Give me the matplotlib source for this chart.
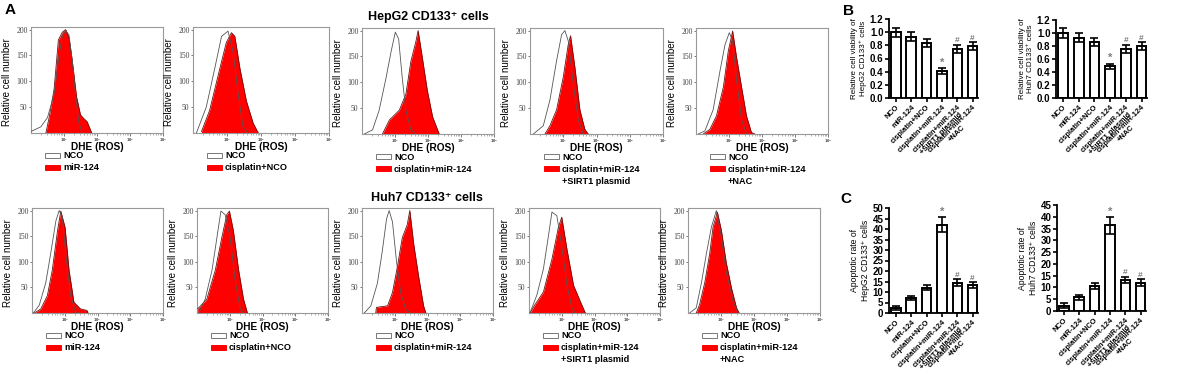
import numpy as np
import matplotlib
matplotlib.use('Agg')
import matplotlib.pyplot as plt
from matplotlib.patches import Rectangle
from matplotlib.ticker import FixedLocator, LogLocator, NullFormatter

# ==============================================================================
# Data
#
# flow cytometry histograms: x in log10(DHE), y in relative cell number
hep_nco_x = [
    [0.0, 0.3, 0.5, 0.7, 0.85, 0.95, 1.05, 1.15, 1.25, 1.35, 1.45, 1.55],
    [0.1, 0.39, 0.64, 0.84, 1.03, 1.18, 1.33, 1.47, 1.62],
    [0.07, 0.32, 0.52, 0.73, 0.88, 1.01, 1.11, 1.23, 1.33, 1.48, 1.63],
    [0.1, 0.4, 0.6, 0.8, 0.95, 1.05, 1.15, 1.3, 1.45, 1.6],
    [0.07, 0.27, 0.52, 0.73, 0.88, 1.01, 1.11, 1.23, 1.38, 1.53],
]
hep_nco_y = [
    [3, 12, 30, 75, 150, 188, 198, 190, 140, 75, 20, 0],
    [0, 50, 125, 187, 197, 156, 75, 12, 0],
    [0, 8, 46, 109, 159, 197, 184, 102, 46, 8, 0],
    [0, 16, 66, 142, 192, 200, 180, 98, 28, 0],
    [0, 6, 47, 123, 173, 196, 180, 104, 28, 0],
]
hep_trt_x = [
    [0.45, 0.55, 0.7, 0.83, 0.95, 1.05, 1.15, 1.25, 1.38, 1.5, 1.6, 1.7, 1.84],
    [0.25, 0.49, 0.79, 0.98, 1.13, 1.23, 1.38, 1.57, 1.77, 1.92],
    [0.62, 0.83, 1.13, 1.33, 1.48, 1.63, 1.7, 1.83, 1.98, 2.14, 2.34],
    [0.45, 0.6, 0.8, 1.0, 1.15, 1.22, 1.35, 1.5, 1.65, 1.75],
    [0.22, 0.42, 0.62, 0.83, 0.98, 1.11, 1.23, 1.38, 1.53, 1.68, 1.78],
]
hep_trt_y = [
    [0, 30, 85, 180, 195, 200, 185, 140, 70, 35, 28, 22, 0],
    [3, 44, 125, 175, 194, 187, 125, 62, 19, 0],
    [0, 27, 46, 77, 140, 178, 200, 147, 84, 33, 0],
    [0, 16, 47, 110, 173, 190, 129, 47, 9, 0],
    [0, 9, 35, 91, 161, 199, 148, 91, 35, 3, 0],
]
huh_nco_x = [
    [0.04, 0.22, 0.42, 0.57, 0.73, 0.83, 0.93, 1.03, 1.18, 1.33, 1.43],
    [0.05, 0.25, 0.46, 0.61, 0.73, 0.86, 1.01, 1.16, 1.32, 1.42],
    [0.07, 0.27, 0.47, 0.62, 0.75, 0.83, 0.93, 1.05, 1.18, 1.33, 1.48],
    [0.03, 0.24, 0.44, 0.59, 0.7, 0.85, 1.0, 1.16, 1.31, 1.41],
    [0.05, 0.25, 0.41, 0.56, 0.71, 0.86, 1.01, 1.16, 1.37, 1.52],
]
huh_nco_y = [
    [0, 15, 59, 116, 180, 200, 186, 116, 34, 2, 0],
    [0, 27, 84, 148, 199, 192, 148, 65, 8, 0],
    [0, 14, 58, 121, 184, 200, 178, 103, 40, 8, 0],
    [0, 35, 86, 149, 197, 190, 130, 54, 10, 0],
    [0, 10, 60, 117, 168, 200, 149, 79, 22, 0],
]
huh_trt_x = [
    [0.07, 0.27, 0.47, 0.62, 0.78, 0.88, 1.01, 1.13, 1.28, 1.48, 1.68, 1.71],
    [0.02, 0.3, 0.56, 0.76, 0.91, 0.99, 1.11, 1.27, 1.42, 1.54],
    [0.42, 0.44, 0.78, 0.93, 1.08, 1.23, 1.38, 1.46, 1.58, 1.73, 1.88, 1.95],
    [0.03, 0.18, 0.44, 0.7, 0.9, 1.0, 1.16, 1.36, 1.57, 1.72],
    [0.25, 0.35, 0.51, 0.66, 0.76, 0.89, 1.01, 1.16, 1.32, 1.47, 1.55],
]
huh_trt_y = [
    [0, 8, 34, 84, 161, 199, 167, 84, 21, 8, 5, 0],
    [8, 27, 84, 148, 192, 199, 161, 84, 27, 0],
    [0, 11, 14, 40, 90, 147, 172, 200, 134, 71, 14, 0],
    [0, 16, 41, 105, 168, 187, 124, 54, 22, 0],
    [0, 16, 60, 117, 168, 197, 162, 98, 48, 10, 0],
]
trt_legends = [
    ['miR-124'],
    ['cisplatin+NCO'],
    ['cisplatin+miR-124'],
    ['cisplatin+miR-124', '+SIRT1 plasmid'],
    ['cisplatin+miR-124', '+NAC'],
]

# bar charts
groups = ['NCO', 'miR-124', 'cisplatin+NCO', 'cisplatin+miR-124',
          'cisplatin+miR-124\n+SIRT1 plasmid', 'cisplatin+miR-124\n+NAC']
marks = ['', '', '', '*', '#', '#']
via_hep = [1.00, 0.93, 0.84, 0.41, 0.75, 0.79]
via_hep_err = [0.07, 0.07, 0.06, 0.04, 0.06, 0.06]
via_huh = [1.00, 0.93, 0.86, 0.49, 0.76, 0.80]
via_huh_err = [0.07, 0.07, 0.06, 0.04, 0.06, 0.06]
apo_hep = [2.5, 7.0, 12.0, 42.0, 14.5, 13.3]
apo_hep_err = [1.0, 1.0, 1.2, 3.5, 1.5, 1.4]
apo_huh = [2.3, 5.8, 10.7, 36.3, 13.2, 12.0]
apo_huh_err = [1.0, 1.0, 1.2, 3.5, 1.4, 1.4]

# ==============================================================================
# Figure helpers
#
W, H = 1200, 376
plt.rcParams['font.family'] = ['Liberation Sans', 'DejaVu Sans']
plt.rcParams['font.weight'] = 'bold'

fig = plt.figure(figsize=(W / 100, H / 100), dpi=100)


def px_axes(l, t, r, b):
    return fig.add_axes([l / W, 1 - b / H, (r - l) / W, (b - t) / H])


def fig_rect(x, y, w, h, fc, ec):
    fig.add_artist(Rectangle((x / W, 1 - (y + h) / H), w / W, h / H,
                             transform=fig.transFigure, facecolor=fc,
                             edgecolor=ec, lw=0.7))


def draw_hist(box, nx, ny, tx, ty, legend):
    l, t, r, b = box
    ax = px_axes(l, t, r, b)
    tx = 10 ** np.array(tx)
    nx = 10 ** np.array(nx)
    ax.fill_between(tx, ty, color='#ff0000', lw=0, zorder=2)
    ax.plot(tx, ty, color='#6a1010', lw=0.6, zorder=3)
    ax.plot(nx, ny, color='#555555', lw=0.6, zorder=4)
    ax.set_xscale('log')
    ax.set_xlim(1, 1e4)
    ax.set_ylim(0, 205)
    for s in ax.spines.values():
        s.set_color('#999999')
        s.set_linewidth(0.8)
    ax.yaxis.set_major_locator(FixedLocator([50, 100, 150, 200]))
    ax.xaxis.set_major_locator(FixedLocator([10, 100, 1000, 10000]))
    ax.xaxis.set_minor_locator(LogLocator(base=10, subs=np.arange(2, 10)))
    ax.xaxis.set_minor_formatter(NullFormatter())
    ax.set_xticklabels([r'$10^1$', r'$10^2$', r'$10^3$', r'$10^4$'])
    ax.tick_params(axis='x', which='major', labelsize=2.4, length=2,
                   width=0.5, pad=0.3, colors='#444444')
    ax.tick_params(axis='x', which='minor', length=1.5, width=0.4,
                   colors='#777777')
    ax.tick_params(axis='y', length=1.5, width=0.5, pad=1, colors='#444444')
    for lab in ax.get_yticklabels():
        lab.set_fontfamily('Liberation Serif')
        lab.set_fontweight('normal')
        lab.set_fontsize(5.5)
    ax.set_ylabel('Relative cell number', fontsize=7)
    ax.yaxis.set_label_coords(-19 / (r - l), 0.48)
    fig.text((l + r) / 2 / W, 1 - (b + 14) / H, 'DHE (ROS)',
             ha='center', va='center', fontsize=7.3)
    # legend under the panel
    fig_rect(l + 14, b + 20, 15, 5, 'white', '#777777')
    fig.text((l + 32) / W, 1 - (b + 23) / H, 'NCO', ha='left', va='center',
             fontsize=6.6)
    fig_rect(l + 14, b + 32, 15, 5, '#ff0000', '#ff0000')
    for i, line in enumerate(legend):
        fig.text((l + 32) / W, 1 - (b + 35 + 12 * i) / H, line,
                 ha='left', va='center', fontsize=6.6)
    return ax


def draw_bars(box, vals, errs, ymax, ystep, ylabel, ylabel_size):
    l, t, r, b = box
    ax = px_axes(l, t, r, b)
    x = np.arange(len(vals))
    ax.bar(x, vals, width=0.62, color='white', edgecolor='black', lw=1.4,
           yerr=errs, capsize=2.6,
           error_kw=dict(elinewidth=1.2, capthick=1.2, ecolor='black'))
    for xi, v, e, m in zip(x, vals, errs, marks):
        if m:
            ax.text(xi, v + e + ymax * 0.005, m, ha='center', va='bottom',
                    color='#808080', fontsize=6 if m == '#' else 8)
    ax.set_xlim(-0.45, 5.35)
    ax.set_ylim(0, ymax)
    ticks = np.arange(0, ymax + ystep / 2, ystep)
    ax.set_yticks(ticks)
    if ystep < 1:
        ax.set_yticklabels(['%.1f' % v for v in ticks])
    else:
        ax.set_yticklabels(['%d' % v for v in ticks])
    ax.set_xticks(x)
    ax.set_xticklabels(groups, rotation=45, ha='right',
                       rotation_mode='anchor', fontsize=5.4,
                       multialignment='center', linespacing=0.95)
    ax.spines['top'].set_visible(False)
    ax.spines['right'].set_visible(False)
    ax.spines['left'].set_linewidth(1.3)
    ax.spines['bottom'].set_linewidth(1.3)
    ax.tick_params(axis='y', labelsize=7, length=3, width=1.2, pad=1)
    ax.tick_params(axis='x', length=3, width=1.2, pad=1.2)
    ax.set_ylabel(ylabel, fontsize=ylabel_size, labelpad=2, linespacing=1.25)
    return ax


# ==============================================================================
# Panel A: histograms
#
row1 = [(31, 27, 163, 133), (193, 27, 329, 133), (362, 28, 494, 134),
        (530, 28, 663, 134), (696, 28, 828, 134)]
row2 = [(32, 208, 163, 313), (197, 208, 328, 313), (362, 208, 493, 313),
        (529, 208, 660, 313), (688, 208, 820, 313)]

for i in range(5):
    draw_hist(row1[i], hep_nco_x[i], hep_nco_y[i], hep_trt_x[i], hep_trt_y[i],
              trt_legends[i])
    draw_hist(row2[i], huh_nco_x[i], huh_nco_y[i], huh_trt_x[i], huh_trt_y[i],
              trt_legends[i])

fig.text(428 / W, 1 - 17 / H, 'HepG2 CD133⁺ cells', ha='center',
         va='center', fontsize=9)
fig.text(427 / W, 1 - 198 / H, 'Huh7 CD133⁺ cells', ha='center',
         va='center', fontsize=9)

# ==============================================================================
# Panels B and C: bar charts
#
draw_bars((889, 19, 978, 98), via_hep, via_hep_err, 1.2, 0.2,
          'Relative cell viability of\nHepG2 CD133⁺ cells', 5.8)
draw_bars((1056, 20, 1147, 98), via_huh, via_huh_err, 1.2, 0.2,
          'Relative cell viability of\nHuh7 CD133⁺ cells', 5.8)
draw_bars((889, 208, 978, 313), apo_hep, apo_hep_err, 50, 5,
          'Apoptotic rate of\nHepG2 CD133⁺ cells', 6.2)
draw_bars((1057, 205, 1146, 311), apo_huh, apo_huh_err, 45, 5,
          'Apoptotic rate of\nHuh7 CD133⁺ cells', 6.2)

# panel letters
fig.text(5 / W, 1 - 10 / H, 'A', ha='left', va='center', fontsize=11)
fig.text(843 / W, 1 - 11 / H, 'B', ha='left', va='center', fontsize=11)
fig.text(840 / W, 1 - 199 / H, 'C', ha='left', va='center', fontsize=11)

fig.savefig('out.png', dpi=100, facecolor='white')
